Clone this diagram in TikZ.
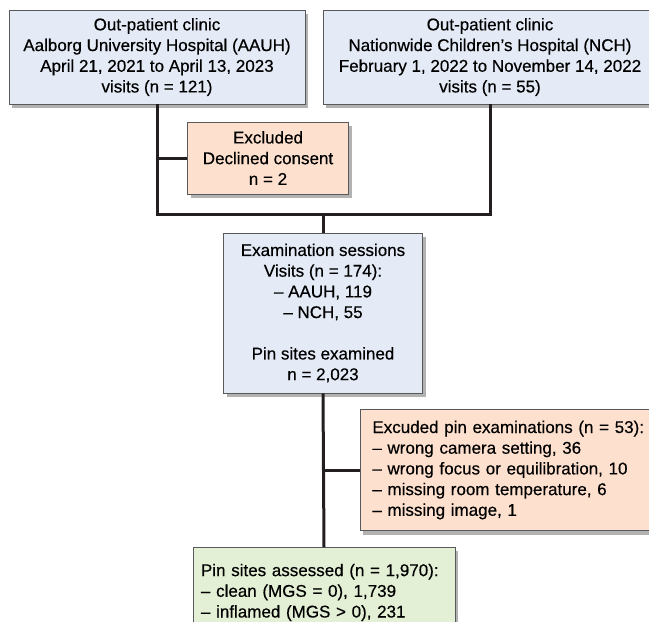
\documentclass[tikz,border=0pt]{standalone}
\usepackage{fontspec}
\setmainfont{Liberation Sans}[FakeBold=0.4]
\usepackage[dvipsnames,svgnames]{xcolor}
\usetikzlibrary{positioning}
\usetikzlibrary{shadows}

\definecolor{boxblue}{HTML}{E5EBF6}
\definecolor{boxorange}{HTML}{FDE0CD}
\definecolor{boxgreen}{HTML}{E4F0D5}
\definecolor{boxline}{HTML}{58595B}
\definecolor{flowline}{HTML}{231F20}

\tikzset{
  box/.style={draw=boxline, line width=0.8pt, inner sep=0pt,
    font=\fontsize{17}{20.7}\selectfont,
    drop shadow={shadow xshift=3pt, shadow yshift=-4pt, fill=black, opacity=0.3}},
  flow/.style={draw=flowline, line width=3pt},
}

\begin{document}
\begin{tikzpicture}[x=1pt, y=-1pt]
    \clip (0,0) rectangle (649,622);
    % 两个门诊
    \node[box, fill=boxblue, align=center, minimum width=296, minimum height=94] (aauh) at (157,57)
        {Out-patient clinic\\Aalborg University Hospital (AAUH)\\April 21, 2021 to April 13, 2023\\visits (n = 121)};
    \node[box, fill=boxblue, align=center, minimum width=334, minimum height=94] (nch) at (490,57)
        {Out-patient clinic\\Nationwide Children’s Hospital (NCH)\\February 1, 2022 to November 14, 2022\\visits (n = 55)};
    % 排除
    \node[box, fill=boxorange, align=center, minimum width=161, minimum height=72] (excl) at (268,158)
        {Excluded\\Declined consent\\n = 2};
    % 检查
    \coordinate (join) at (323,214);
    \node[box, fill=boxblue, align=center, minimum width=199, minimum height=160] (exam) at (323,313)
        {Examination sessions\\Visits (n = 174):\\– AAUH, 119\\– NCH, 55\\[20.7pt]Pin sites examined\\n = 2,023};
    \node[box, fill=boxorange, align=left, text width=300, inner xsep=12, minimum height=121, anchor=west] (pinexcl) at (360,470)
        {Excuded pin examinations (n = 53):\\– wrong camera setting, 36\\– wrong focus or equilibration, 10\\– missing room temperature, 6\\– missing image, 1};
    \node[box, fill=boxgreen, align=left, text width=246, inner xsep=8, inner ysep=10, minimum height=90, anchor=north] (assessed) at (324,547)
        {Pin sites assessed (n = 1,970):\\– clean (MGS = 0), 1,739\\– inflamed (MGS > 0), 231};
    % 画线
    \draw[flow] (aauh.south) -- (aauh.south |- join) -- (nch.south |- join) -- (nch.south);
    \draw[flow] (aauh.south |- excl.west) -- (excl.west);
    \draw[flow] (join) -- (exam.north);
    \draw[flow] (exam.south) -- (assessed.north);
    \draw[flow] (exam.south |- pinexcl.west) -- (pinexcl.west);
\end{tikzpicture}
\end{document}
